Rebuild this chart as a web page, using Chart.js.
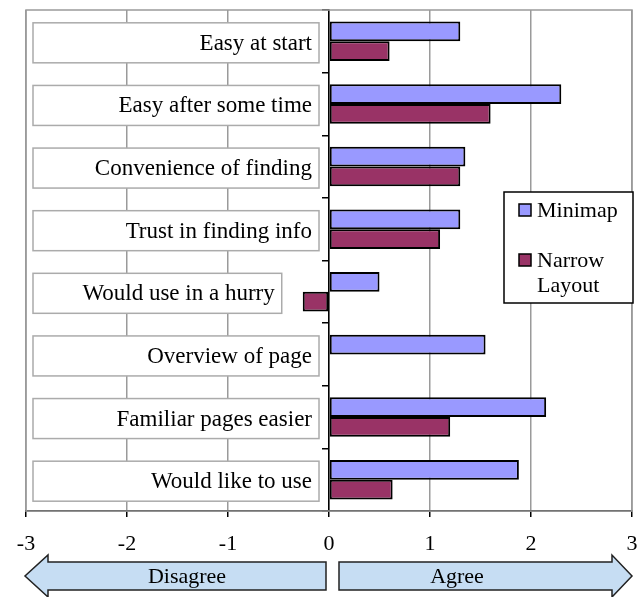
<!DOCTYPE html>
<html>
<head>
<meta charset="utf-8">
<title>Minimap vs Narrow Layout</title>
<script src="https://cdn.jsdelivr.net/npm/chart.js@4.4.1/dist/chart.umd.min.js"></script>
<style>
  html, body { margin: 0; padding: 0; background: #fff; }
  #wrap { width: 644px; height: 597px; }
</style>
</head>
<body>
<div id="wrap"><canvas id="surveyChart" width="644" height="597"></canvas></div>
<script>
// Survey answers, top to bottom
const categories = [
    'Easy at start',
    'Easy after some time',
    'Convenience of finding',
    'Trust in finding info',
    'Would use in a hurry',
    'Overview of page',
    'Familiar pages easier',
    'Would like to use'
];
const minimapValues = [1.3, 2.3, 1.35, 1.3, 0.5, 1.55, 2.15, 1.88];
const narrowValues = [0.6, 1.6, 1.3, 1.1, -0.26, 0, 1.2, 0.63];
const seriesNames = ['Minimap', 'Narrow Layout'];
const xTickValues = [-3, -2, -1, 0, 1, 2, 3];
const arrowLabels = ['Disagree', 'Agree'];

const SERIF = '"Liberation Serif", "Times New Roman", serif';

// Gray frame + the label boxes on the left half
const labelBoxes = {
    id: 'labelBoxes',
    beforeDatasetsDraw(chart) {
        const ctx = chart.ctx;
        const area = chart.chartArea;
        const x = chart.scales.x;
        const y = chart.scales.y;

        ctx.save();
        ctx.strokeStyle = '#9a9a9a';
        ctx.lineWidth = 1.5;
        ctx.strokeRect(area.left, area.top, area.right - area.left, area.bottom - area.top);

        ctx.font = '23px ' + SERIF;
        ctx.textAlign = 'right';
        ctx.textBaseline = 'middle';
        categories.forEach((label, i) => {
            const yc = y.getPixelForValue(i) + 1.5;
            const low = Math.min(0, minimapValues[i], narrowValues[i]);
            let right = x.getPixelForValue(low) - 10;
            if (low < 0) right -= 11;
            const left = area.left + 7;
            ctx.fillStyle = '#fff';
            ctx.fillRect(left, yc - 20, right - left, 40);
            ctx.strokeStyle = '#ababab';
            ctx.lineWidth = 1.5;
            ctx.strokeRect(left, yc - 20, right - left, 40);
            ctx.fillStyle = '#000';
            ctx.fillText(label, right - 7, yc + 1);
        });
        ctx.restore();
    }
};

// Legend box sitting inside the plot
const boxLegend = {
    id: 'boxLegend',
    afterDatasetsDraw(chart) {
        const ctx = chart.ctx;
        const area = chart.chartArea;
        const left = area.right - 128;
        const top = area.top + 182;
        ctx.save();
        ctx.fillStyle = '#fff';
        ctx.fillRect(left, top, 129, 111);
        ctx.strokeStyle = '#000';
        ctx.lineWidth = 1.5;
        ctx.strokeRect(left, top, 129, 111);

        ctx.font = '22px ' + SERIF;
        ctx.textAlign = 'left';
        ctx.textBaseline = 'middle';
        chart.data.datasets.forEach((ds, i) => {
            const sy = top + 12 + i * 50;
            ctx.fillStyle = ds.backgroundColor;
            ctx.fillRect(left + 15, sy, 12, 12);
            ctx.strokeStyle = '#000';
            ctx.lineWidth = 1.5;
            ctx.strokeRect(left + 15, sy, 12, 12);
            ctx.fillStyle = '#000';
            const words = ds.label.split(' ');
            words.forEach((w, j) => {
                ctx.fillText(w, left + 33, sy + 7 + j * 25);
            });
        });
        ctx.restore();
    }
};

// Disagree / Agree arrows under the axis
const agreeArrows = {
    id: 'agreeArrows',
    afterDraw(chart) {
        const ctx = chart.ctx;
        const x = chart.scales.x;
        const mid = 576;
        const half = 14;
        const head = 21;

        function arrow(tail, base, tip) {
            ctx.beginPath();
            ctx.moveTo(tail, mid - half);
            ctx.lineTo(base, mid - half);
            ctx.lineTo(base, mid - head);
            ctx.lineTo(tip, mid);
            ctx.lineTo(base, mid + head);
            ctx.lineTo(base, mid + half);
            ctx.lineTo(tail, mid + half);
            ctx.closePath();
            ctx.fill();
            ctx.stroke();
        }

        ctx.save();
        ctx.fillStyle = '#c6ddf3';
        ctx.strokeStyle = '#222';
        ctx.lineWidth = 1.5;
        const zero = x.getPixelForValue(0);
        const lo = x.getPixelForValue(-3);
        const hi = x.getPixelForValue(3);
        arrow(zero - 3, lo + 22, lo - 1);
        arrow(zero + 10, hi - 20, hi);

        ctx.fillStyle = '#000';
        ctx.font = '22px ' + SERIF;
        ctx.textAlign = 'center';
        ctx.textBaseline = 'middle';
        ctx.fillText(arrowLabels[0], (lo + 22 + zero - 3) / 2, mid + 1);
        ctx.fillText(arrowLabels[1], zero + 128, mid + 1);
        ctx.restore();
    }
};

document.addEventListener('DOMContentLoaded', function () {
    const chartCtx = document.getElementById('surveyChart');
    new Chart(chartCtx, {
        type: 'bar',
        data: {
            labels: categories,
            datasets: [
                {
                    label: seriesNames[0],
                    data: minimapValues,
                    backgroundColor: '#9999ff',
                    borderColor: '#000',
                    borderWidth: 2,
                    borderSkipped: false
                },
                {
                    label: seriesNames[1],
                    data: narrowValues,
                    backgroundColor: '#993366',
                    borderColor: '#000',
                    borderWidth: 2,
                    borderSkipped: false
                }
            ]
        },
        options: {
            indexAxis: 'y',
            responsive: false,
            animation: false,
            devicePixelRatio: 1,
            categoryPercentage: 0.63,
            barPercentage: 1.0,
            layout: { padding: { left: 26, right: 12, top: 10, bottom: 0 } },
            plugins: {
                legend: { display: false },
                tooltip: { enabled: false }
            },
            scales: {
                x: {
                    type: 'linear',
                    min: -3,
                    max: 3,
                    afterBuildTicks(scale) {
                        scale.ticks = xTickValues.map(v => ({ value: v }));
                    },
                    afterFit(scale) {
                        scale.height = 86;
                        scale.paddingLeft = 0;
                        scale.paddingRight = 0;
                    },
                    grid: {
                        color: '#9a9a9a',
                        lineWidth: 1.5,
                        drawTicks: true,
                        tickLength: 6,
                        tickColor: '#000'
                    },
                    border: { color: '#000', width: 1.5 },
                    ticks: {
                        color: '#000',
                        padding: 14,
                        font: { family: SERIF, size: 22 }
                    }
                },
                y: {
                    type: 'category',
                    position: { x: 0 },
                    offset: true,
                    afterFit(scale) {
                        scale.paddingTop = 0;
                        scale.paddingBottom = 0;
                    },
                    grid: {
                        offset: true,
                        drawOnChartArea: false,
                        drawTicks: true,
                        tickLength: 6,
                        tickColor: '#000',
                        lineWidth: 1.5
                    },
                    border: { color: '#000', width: 1.5 },
                    ticks: { display: false }
                }
            }
        },
        plugins: [labelBoxes, boxLegend, agreeArrows]
    });
});
</script>
</body>
</html>
